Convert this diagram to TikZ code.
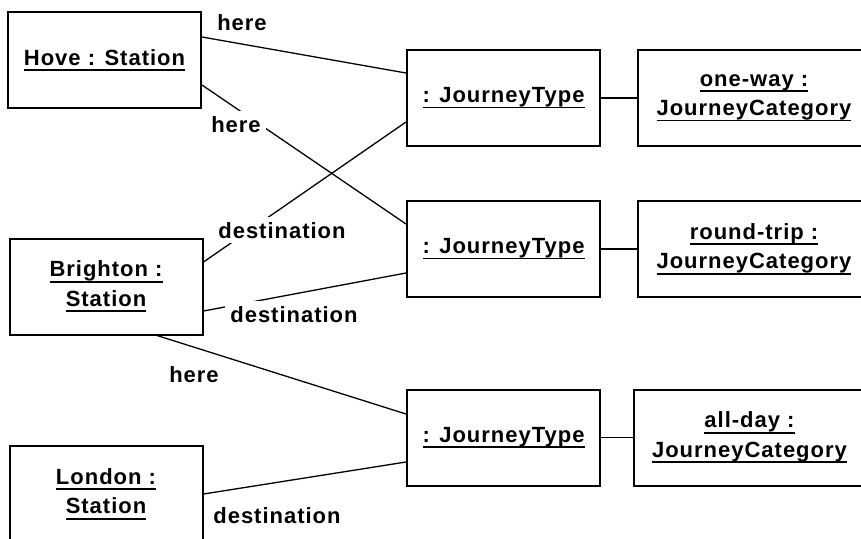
\documentclass[tikz,border=0pt]{standalone}
\usepackage{fontspec}
\setmainfont{Liberation Sans}[LetterSpace=4.5]
\usetikzlibrary{calc, positioning}
\newsavebox{\objnamebox}
\newcommand{\objname}[1]{\sbox{\objnamebox}{#1}\leavevmode\rlap{\rule[-5.6pt]{\wd\objnamebox}{1.6pt}}\usebox{\objnamebox}}

\begin{document}
\begin{tikzpicture}[
    x=1pt, y=-1pt,
    font=\fontsize{22}{29.5}\selectfont\bfseries,
    obj_box/.style={draw, line width=2pt, minimum width=193pt, minimum height=96pt, align=center, inner sep=2pt},
    cat_box/.style={obj_box, minimum width=232pt},
    link/.style={line width=1.3pt},
    role_label/.style={fill=white, inner sep=5pt, anchor=base}
]
    \useasboundingbox[fill=white] (0,0) rectangle (861,538);

    % 1. STATIONS (Left)
    \node[obj_box] (hove) at (104.5, 60) {\objname{Hove : Station}};
    \node[obj_box] (brighton) at (106, 286.5) {\objname{Brighton :}\\\objname{Station}};
    \node[obj_box] (london) at (106, 494) {\objname{London :}\\\objname{Station}};

    % 2. JOURNEY TYPES (Centre)
    \node[obj_box] (jt_one) at (503.5, 98) {\objname{: JourneyType}};
    \node[obj_box] (jt_round) at (503.5, 249) {\objname{: JourneyType}};
    \node[obj_box] (jt_day) at (503.5, 437.5) {\objname{: JourneyType}};

    % 3. CATEGORIES (Right)
    \node[cat_box] (cat_one) at (754, 98) {\objname{one-way :}\\\objname{JourneyCategory}};
    \node[cat_box] (cat_round) at (754, 249) {\objname{round-trip :}\\\objname{JourneyCategory}};
    \node[cat_box] (cat_day) at (749.5, 437.5) {\objname{all-day :}\\\objname{JourneyCategory}};

    % 4. LINKS
    \draw[link] ([yshift=23pt]hove.east) -- ([yshift=25pt]jt_one.west);
    \draw[link] ([yshift=-25pt]hove.east) -- ([yshift=25pt]jt_round.west);
    \draw[link] ([yshift=24.5pt]brighton.east) -- ([yshift=-24pt]jt_one.west);
    \draw[link] ([yshift=-24.5pt]brighton.east) -- ([yshift=-24pt]jt_round.west);
    \draw[link] ([xshift=51pt]brighton.south) -- ([yshift=23.5pt]jt_day.west);
    \draw[link] (london.east) -- ([yshift=-24.5pt]jt_day.west);
    \draw[link] (jt_one) -- (cat_one);
    \draw[link] (jt_round) -- (cat_round);
    \draw[link] (jt_day) -- (cat_day);

    % 5. ROLE LABELS
    \node[role_label] (here_one) at (242, 30) {here};
    \node[role_label] (here_round) at (236, 132) {here};
    \node[role_label] (dest_one) at (282, 238) {destination};
    \node[role_label] (dest_round) at (294, 322) {destination};
    \node[role_label] (here_day) at (194, 382) {here};
    \node[role_label] (dest_day) at (277, 523) {destination};

\end{tikzpicture}
\end{document}
